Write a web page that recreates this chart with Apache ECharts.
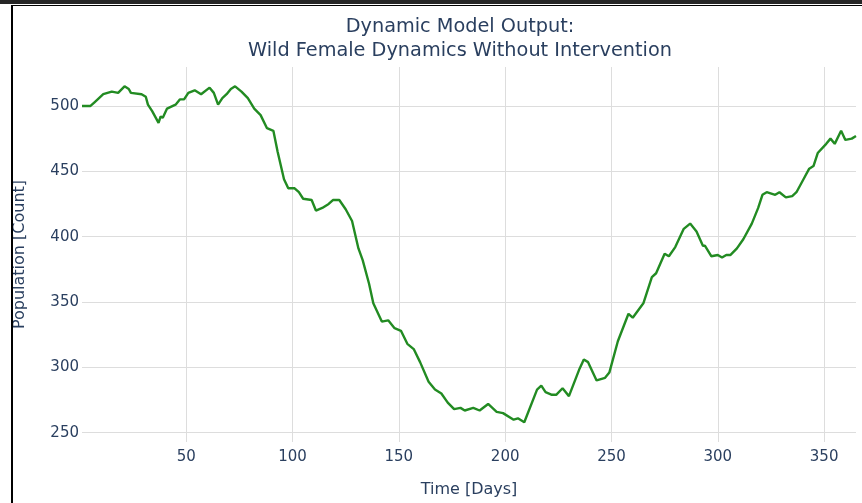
<!DOCTYPE html>
<html>
<head>
<meta charset="utf-8">
<script src="https://cdn.jsdelivr.net/npm/echarts@6/dist/echarts.min.js"></script>
<style>
html,body{margin:0;padding:0;background:#fff;width:862px;height:503px;overflow:hidden;}
#topbar{position:absolute;left:0;top:0;width:862px;height:4px;background:#262626;}
#frameTop{position:absolute;left:11px;top:5px;width:851px;height:1px;background:#000;}
#frameLeft{position:absolute;left:11px;top:5px;width:2px;height:498px;background:#000;}
#chart{position:absolute;left:0;top:0;width:862px;height:503px;}
</style>
</head>
<body>
<div id="chart"></div>
<div id="topbar"></div>
<div id="frameTop"></div>
<div id="frameLeft"></div>
<script>
const titleLines = ["Dynamic Model Output:", "Wild Female Dynamics Without Intervention"];
const xAxisTitle = "Time [Days]";
const yAxisTitle = "Population [Count]";
const xTicks = [50, 100, 150, 200, 250, 300, 350];
const yTicks = [250, 300, 350, 400, 450, 500];
const days = [1,5,7,11,15,18,21,23,24,29,31,32,34,37,38,39,41,45,47,49,51,54,57,61,63,65,67,69,71,73,76,79,82,85,88,91,93,96,98,101,103,105,109,111,114,117,119,122,125,128,131,133,136,138,142,145,148,151,154,157,160,164,167,170,173,176,179,181,185,188,192,196,199,204,206,209,215,217,219,222,224,227,230,235,237,239,243,247,249,253,258,260,265,269,271,275,277,280,284,287,290,293,294,297,300,302,304,306,309,312,316,319,321,323,327,329,332,335,337,341,343,345,347,351,353,355,358,360,363,365];
const population = [500,500,503,509,511,510,515,513,510,509,507,501,496,487,492,491,498,501,505,505,510,512,509,514,510,501,506,509,513,515,511,506,498,493,483,481,465,444,437,437,434,429,428,420,422,425,428,428,421,412,391,382,364,349,335,336,330,328,318,314,304,289,283,280,273,268,269,267,269,267,272,266,265,260,261,258,283,286,281,279,279,284,278,299,306,304,290,292,296,320,341,338,349,369,372,387,385,392,406,410,404,393,393,385,386,384,386,386,391,398,410,422,432,434,432,434,430,431,434,446,452,454,464,471,475,471,481,474,475,477];

const series = days.map((d, i) => [d, population[i]]);
const txt = '#2a3f5f';
const font = '"DejaVu Sans", Verdana, sans-serif';
const chart = echarts.init(document.getElementById('chart'));
chart.setOption({
  animation: false,
  backgroundColor: 'transparent',
  title: {
    text: titleLines.join('\n'),
    left: 455, top: 10, textAlign: 'center',
    textStyle: {color: txt, fontFamily: font, fontSize: 19.3, fontWeight: 'normal', lineHeight: 24}
  },
  grid: {left: 82, right: 6, top: 67, bottom: 61, containLabel: false},
  xAxis: {
    type: 'value', min: 1, max: 365,
    name: xAxisTitle, nameLocation: 'middle', nameGap: 40,
    nameTextStyle: {color: txt, fontFamily: font, fontSize: 16},
    axisLine: {show: false},
    axisTick: {show: false, customValues: xTicks},
    axisLabel: {customValues: xTicks, color: txt, fontFamily: font, fontSize: 15, margin: 8},
    splitLine: {show: true, lineStyle: {color: '#dddddd', width: 1}}
  },
  yAxis: {
    type: 'value', min: 242.9, max: 529.8,
    name: yAxisTitle, nameLocation: 'middle', nameGap: 54,
    nameTextStyle: {color: txt, fontFamily: font, fontSize: 16},
    axisLine: {show: false},
    axisTick: {show: false, customValues: yTicks},
    axisLabel: {customValues: yTicks, color: txt, fontFamily: font, fontSize: 15, margin: 3},
    splitLine: {show: true, lineStyle: {color: '#dddddd', width: 1}}
  },
  series: [{
    type: 'line', data: series, showSymbol: false, smooth: false,
    lineStyle: {color: '#228B22', width: 2.4}
  }]
});
</script>
</body>
</html>
